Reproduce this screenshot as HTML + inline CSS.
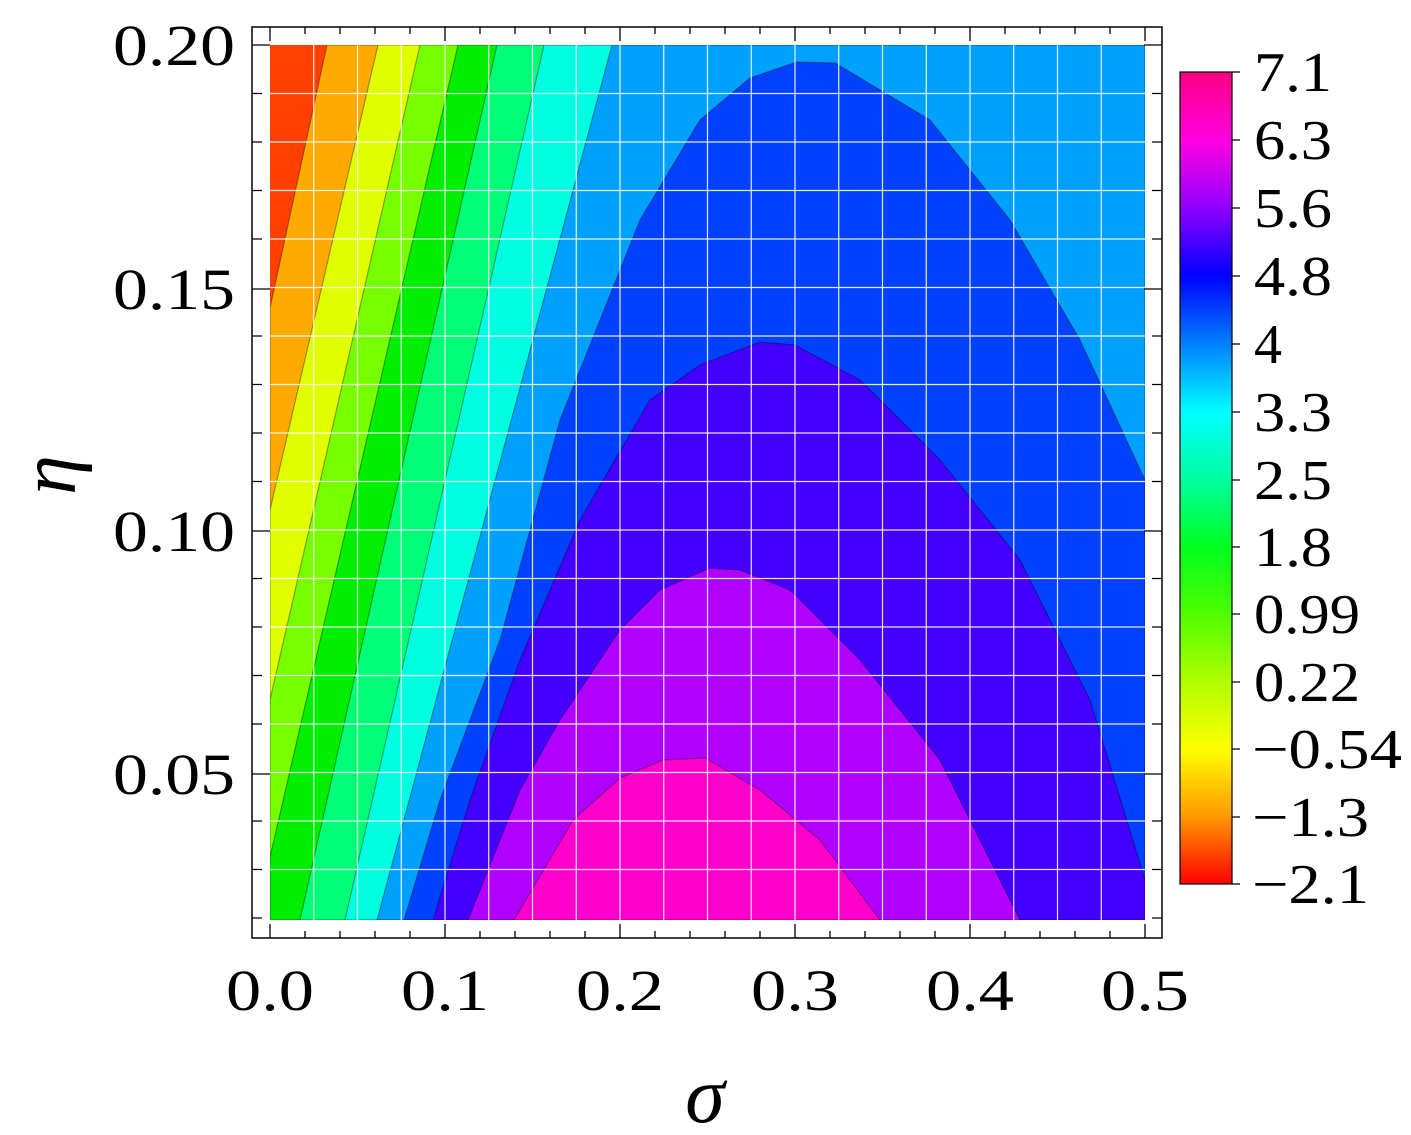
<!DOCTYPE html>
<html><head><meta charset="utf-8"><style>
html,body{margin:0;padding:0;background:#fff;}
svg{display:block;}
text{font-family:"Liberation Serif","DejaVu Serif",serif;fill:#000;}
</style></head><body>
<svg width="1411" height="1135" viewBox="0 0 1411 1135" xmlns="http://www.w3.org/2000/svg">
<defs>
<clipPath id="c"><rect x="270" y="45" width="875" height="875"/></clipPath>
<linearGradient id="cb" x1="0" y1="0" x2="0" y2="1">
<stop offset="0" stop-color="#ff0080"/>
<stop offset="0.084" stop-color="#ff00e0"/>
<stop offset="0.167" stop-color="#9000ff"/>
<stop offset="0.25" stop-color="#0000ff"/>
<stop offset="0.335" stop-color="#0080ff"/>
<stop offset="0.419" stop-color="#00ffff"/>
<stop offset="0.502" stop-color="#00ffa0"/>
<stop offset="0.585" stop-color="#00ff20"/>
<stop offset="0.668" stop-color="#50ff00"/>
<stop offset="0.751" stop-color="#b0ff00"/>
<stop offset="0.834" stop-color="#ffff00"/>
<stop offset="0.917" stop-color="#ff9900"/>
<stop offset="1" stop-color="#ff0000"/>
</linearGradient>
</defs>
<g clip-path="url(#c)" stroke="rgba(0,0,0,0.35)" stroke-width="1.2">
<rect x="270" y="45" width="875" height="875" fill="#ff4000" stroke="none"/>
<polygon fill="#ffaa00" points="327,45 270,308 270,920 1145,920 1145,45"/>
<polygon fill="#e0ff00" points="378,45 270,510 270,920 1145,920 1145,45"/>
<polygon fill="#77ff00" points="420,45 270,700 270,920 1145,920 1145,45"/>
<polygon fill="#00ee00" points="458,45 270,857 270,920 1145,920 1145,45"/>
<polygon fill="#00ff77" points="497,45 300,920 1145,920 1145,45"/>
<polygon fill="#00ffe0" points="544,45 345,920 1145,920 1145,45"/>
<polygon fill="#00a0ff" points="612,45 377,920 1145,920 1145,45"/>
<polygon fill="#0040ff" points="404,920 440,800 500,640 560,420 640,220 700,120 750,78 797,62 835,63 930,120 1010,220 1080,340 1145,480 1145,920"/>
<polygon fill="#4400ff" points="433,920 470,800 520,660 580,520 650,400 700,365 760,342 795,345 860,380 940,460 1020,560 1090,700 1145,880 1145,920"/>
<polygon fill="#b000ff" points="468,920 520,790 560,720 620,630 660,590 710,568 740,570 790,590 860,660 940,760 1020,920"/>
<polygon fill="#ff00cc" points="514,920 573,820 620,778 663,760 705,758 760,790 820,840 880,920"/>
</g>
<g stroke="#fff" stroke-width="1.2" opacity="0.9">
<path d="M313.75 45V920M357.5 45V920M401.25 45V920M445 45V920M488.75 45V920M532.5 45V920M576.25 45V920M620 45V920M663.75 45V920M707.5 45V920M751.25 45V920M795 45V920M838.75 45V920M882.5 45V920M926.25 45V920M970 45V920M1013.75 45V920M1057.5 45V920M1101.25 45V920"/>
<path d="M270 93.5H1145M270 142H1145M270 190.5H1145M270 239H1145M270 287.5H1145M270 336H1145M270 384.5H1145M270 433H1145M270 481.5H1145M270 530H1145M270 578.5H1145M270 627H1145M270 675.5H1145M270 724H1145M270 772.5H1145M270 821H1145M270 869.5H1145"/>
</g>
<rect x="252" y="27" width="910" height="911" fill="none" stroke="#000" stroke-width="1.5"/>
<g stroke="#000" stroke-width="1.3">
<path d="M270 938v-14M305 938v-7M340 938v-7M375 938v-7M410 938v-7M445 938v-14M480 938v-7M515 938v-7M550 938v-7M585 938v-7M620 938v-14M655 938v-7M690 938v-7M725 938v-7M760 938v-7M795 938v-14M830 938v-7M865 938v-7M900 938v-7M935 938v-7M970 938v-14M1005 938v-7M1040 938v-7M1075 938v-7M1110 938v-7M1145 938v-14"/>
<path d="M270 27v14M305 27v7M340 27v7M375 27v7M410 27v7M445 27v14M480 27v7M515 27v7M550 27v7M585 27v7M620 27v14M655 27v7M690 27v7M725 27v7M760 27v7M795 27v14M830 27v7M865 27v7M900 27v7M935 27v7M970 27v14M1005 27v7M1040 27v7M1075 27v7M1110 27v7M1145 27v14"/>
<path d="M252 45h18M252 93.5h10M252 142h10M252 190.5h10M252 239h10M252 289h18M252 336h10M252 384.5h10M252 433h10M252 481.5h10M252 531h18M252 578.5h10M252 627h10M252 675.5h10M252 724h10M252 774h18M252 821h10M252 869.5h10M252 918h10"/>
<path d="M1162 45h-18M1162 93.5h-10M1162 142h-10M1162 190.5h-10M1162 239h-10M1162 289h-18M1162 336h-10M1162 384.5h-10M1162 433h-10M1162 481.5h-10M1162 531h-18M1162 578.5h-10M1162 627h-10M1162 675.5h-10M1162 724h-10M1162 774h-18M1162 821h-10M1162 869.5h-10M1162 918h-10"/>
</g>
<g font-size="58" lengthAdjust="spacingAndGlyphs">
<text x="113" y="65" textLength="122" lengthAdjust="spacingAndGlyphs">0.20</text>
<text x="113" y="309" textLength="122" lengthAdjust="spacingAndGlyphs">0.15</text>
<text x="113" y="551" textLength="122" lengthAdjust="spacingAndGlyphs">0.10</text>
<text x="113" y="794" textLength="122" lengthAdjust="spacingAndGlyphs">0.05</text>
</g>
<g font-size="58">
<text x="226" y="1010" textLength="88" lengthAdjust="spacingAndGlyphs">0.0</text>
<text x="401" y="1010" textLength="88" lengthAdjust="spacingAndGlyphs">0.1</text>
<text x="576" y="1010" textLength="88" lengthAdjust="spacingAndGlyphs">0.2</text>
<text x="751" y="1010" textLength="88" lengthAdjust="spacingAndGlyphs">0.3</text>
<text x="926" y="1010" textLength="88" lengthAdjust="spacingAndGlyphs">0.4</text>
<text x="1101" y="1010" textLength="88" lengthAdjust="spacingAndGlyphs">0.5</text>
</g>
<text x="705" y="1122" font-size="80" font-style="italic" text-anchor="middle">σ</text>
<text transform="translate(75,475) rotate(-90)" font-size="80" font-style="italic" text-anchor="middle">η</text>
<rect x="1180" y="72" width="52" height="812" fill="url(#cb)" stroke="#000" stroke-width="1.2"/>
<g stroke="#000" stroke-width="1.3">
<path d="M1232 72h8M1232 140h8M1232 208h8M1232 276h8M1232 344h8M1232 412h8M1232 480h8M1232 547h8M1232 614h8M1232 682h8M1232 749h8M1232 817h8M1232 884h8"/>
</g>
<g font-size="56">
<text x="1254" y="91" textLength="78" lengthAdjust="spacingAndGlyphs">7.1</text>
<text x="1254" y="159" textLength="78" lengthAdjust="spacingAndGlyphs">6.3</text>
<text x="1254" y="227" textLength="78" lengthAdjust="spacingAndGlyphs">5.6</text>
<text x="1254" y="295" textLength="78" lengthAdjust="spacingAndGlyphs">4.8</text>
<text x="1254" y="363">4</text>
<text x="1254" y="431" textLength="78" lengthAdjust="spacingAndGlyphs">3.3</text>
<text x="1254" y="499" textLength="78" lengthAdjust="spacingAndGlyphs">2.5</text>
<text x="1254" y="566" textLength="78" lengthAdjust="spacingAndGlyphs">1.8</text>
<text x="1254" y="633" textLength="106" lengthAdjust="spacingAndGlyphs">0.99</text>
<text x="1254" y="701" textLength="106" lengthAdjust="spacingAndGlyphs">0.22</text>
<text x="1252" y="768" textLength="150" lengthAdjust="spacingAndGlyphs">−0.54</text>
<text x="1252" y="836" textLength="117" lengthAdjust="spacingAndGlyphs">−1.3</text>
<text x="1252" y="903" textLength="117" lengthAdjust="spacingAndGlyphs">−2.1</text>
</g>
</svg>
</body></html>
